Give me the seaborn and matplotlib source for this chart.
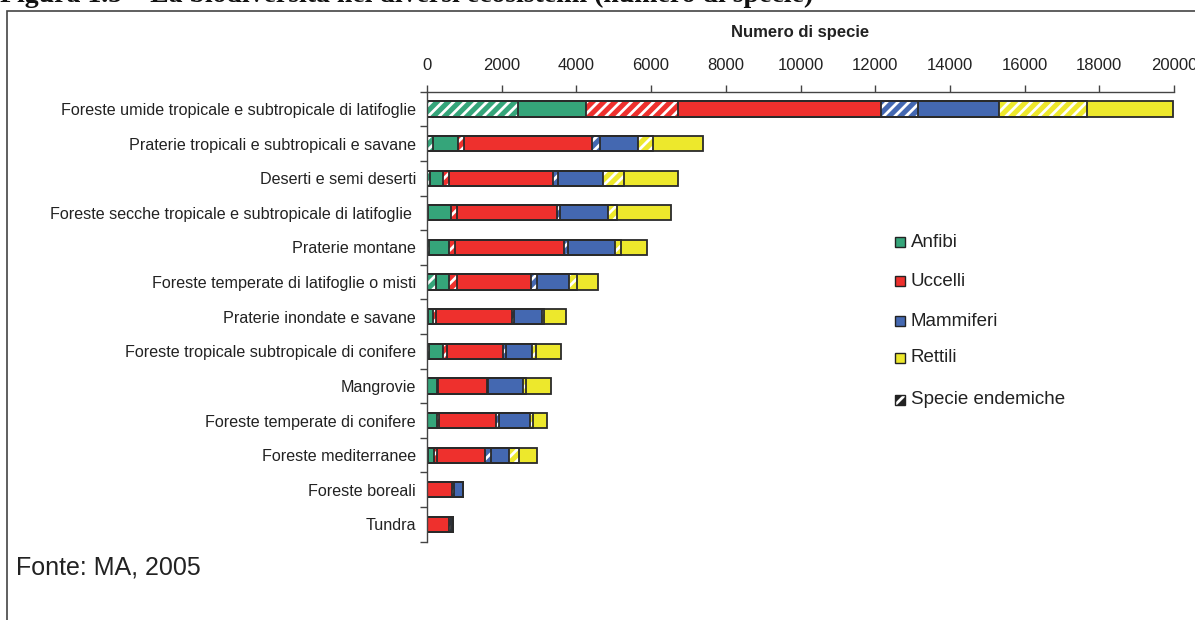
import matplotlib
matplotlib.use("Agg")
import matplotlib.pyplot as plt
from matplotlib.patches import Rectangle
import numpy as np
import pandas as pd
import seaborn as sns

# ---------------- data ----------------
ecosistemi = [
    "Foreste umide tropicale e subtropicale di latifoglie",
    "Praterie tropicali e subtropicali e savane",
    "Deserti e semi deserti",
    "Foreste secche tropicale e subtropicale di latifoglie ",
    "Praterie montane",
    "Foreste temperate di latifoglie o misti",
    "Praterie inondate e savane",
    "Foreste tropicale subtropicale di conifere",
    "Mangrovie",
    "Foreste temperate di conifere",
    "Foreste mediterranee",
    "Foreste boreali",
    "Tundra",
]
anfibi_endemici    = [2430, 150,   80,   30,   60,  230,   20,   60,   10,   10,   40,   0,   0]
anfibi_altri       = [1840, 690,  355,  600,  540,  365,  135,  375,  250,  250,  145,   0,   0]
uccelli_endemici   = [2450, 150,  160,  160,  150,  200,   85,  105,   45,   55,   75,  10,  10]
uccelli_altri      = [5425, 3435, 2770, 2695, 2925, 1990, 2045, 1500, 1295, 1535, 1295, 670, 580]
mammiferi_endemici = [990,  215,  150,   70,  105,  170,   45,   70,   45,   70,  160,  40,  50]
mammiferi_altri    = [2180, 1000, 1205, 1295, 1250,  850,  740,  690,  920,  840,  480, 235,  65]
rettili_endemici   = [2355, 400,  555,  225,  160,  205,   70,  105,   90,   90,  275,   0,   0]
rettili_altri      = [2295, 1355, 1455, 1445,  690,  565,  580,  695,  670,  360,  480,   0,   0]

gruppi = ["Anfibi", "Uccelli", "Mammiferi", "Rettili"]
legenda_endemiche = "Specie endemiche"
asse_label = "Numero di specie"
x_ticks = [0, 2000, 4000, 6000, 8000, 10000, 12000, 14000, 16000, 18000, 20000]
titolo = "Figura 1.5 \u2013 La biodiversità nei diversi ecosistemi (numero di specie)"
fonte = "Fonte: MA, 2005"

# ---------------- style ----------------
colori = {"Anfibi": "#35A57A", "Uccelli": "#EE302D", "Mammiferi": "#4468B1", "Rettili": "#EDE82C"}
sns.set_theme(style="white")
plt.rcParams["font.family"] = ["Liberation Sans", "DejaVu Sans"]
plt.rcParams["hatch.linewidth"] = 2.0

layers = [
    ("Anfibi", True, anfibi_endemici), ("Anfibi", False, anfibi_altri),
    ("Uccelli", True, uccelli_endemici), ("Uccelli", False, uccelli_altri),
    ("Mammiferi", True, mammiferi_endemici), ("Mammiferi", False, mammiferi_altri),
    ("Rettili", True, rettili_endemici), ("Rettili", False, rettili_altri),
]
cum = np.cumsum(np.array([l[2] for l in layers], dtype=float), axis=0)

W, H = 1195, 620
fig = plt.figure(figsize=(W / 100, H / 100), dpi=100)
ax = fig.add_axes([427 / W, 1 - 541.7 / H, (1174 - 427) / W, (541.7 - 91.7) / H])

BAR_W = 0.44
# filled layers, largest cumulative first
for i in range(len(layers) - 1, -1, -1):
    grp, endem, _ = layers[i]
    df = pd.DataFrame({"eco": ecosistemi, "val": cum[i]})
    if endem:
        sns.barplot(data=df, x="val", y="eco", orient="h", color=colori[grp], saturation=1,
                    width=BAR_W, errorbar=None, hatch="///", edgecolor="white", linewidth=0, ax=ax)
    else:
        sns.barplot(data=df, x="val", y="eco", orient="h", color=colori[grp], saturation=1,
                    width=BAR_W, errorbar=None, linewidth=0, ax=ax)
# outlines
for i in range(len(layers)):
    df = pd.DataFrame({"eco": ecosistemi, "val": cum[i]})
    sns.barplot(data=df, x="val", y="eco", orient="h", color="#2a2a2a", fill=False,
                width=BAR_W, errorbar=None, linewidth=1.3, ax=ax)

# axes
ax.set_xlim(0, 20000)
ax.set_ylim(len(ecosistemi) - 0.5, -0.5)
ax.xaxis.tick_top()
ax.xaxis.set_label_position("top")
ax.set_xticks(x_ticks)
ax.set_xticklabels([str(t) for t in x_ticks], fontsize=12, color="#222222")
ax.set_xlabel(asse_label, fontsize=12, fontweight="bold", color="#222222", labelpad=15)
ax.set_ylabel("")
ax.tick_params(axis="x", direction="out", length=5, width=1, color="#444444", pad=8.5, top=True, bottom=False)
ax.tick_params(axis="y", which="major", length=0, pad=8, labelsize=11.6, labelcolor="#222222")
ax.set_yticks(np.arange(len(ecosistemi) + 1) - 0.5, minor=True)
ax.tick_params(axis="y", which="minor", direction="out", length=5, width=1, color="#444444", left=True)
for s in ["right", "bottom"]:
    ax.spines[s].set_visible(False)
for s in ["left", "top"]:
    ax.spines[s].set_color("#444444")
    ax.spines[s].set_linewidth(1.0)
ax.grid(False)

# legend (manual)
leg_y = [242, 281, 321, 358]
for grp, y in zip(gruppi, leg_y):
    fig.add_artist(Rectangle((895 / W, 1 - (y + 5) / H), 10 / W, 10 / H, transform=fig.transFigure,
                             facecolor=colori[grp], edgecolor="#222222", linewidth=1.0))
    fig.text(911 / W, 1 - y / H, grp, fontsize=13.5, va="center", ha="left", color="#222222")
fig.add_artist(Rectangle((895 / W, 1 - 405 / H), 10 / W, 10 / H, transform=fig.transFigure,
                         facecolor="#222222", edgecolor="white", hatch="//", linewidth=0))
fig.add_artist(Rectangle((895 / W, 1 - 405 / H), 10 / W, 10 / H, transform=fig.transFigure,
                         facecolor="none", edgecolor="#222222", linewidth=1.0))
fig.text(911 / W, 1 - 400 / H, legenda_endemiche, fontsize=13.5, va="center", ha="left", color="#222222")

# frame, title, source
fig.add_artist(Rectangle((7 / W, -0.1), 1.2, 1 - 11 / H + 0.1, transform=fig.transFigure,
                         facecolor="none", edgecolor="#444444", linewidth=1.2))
fig.text(0.0, 1 - 1.5 / H, titolo, fontsize=20, fontweight="bold", family="Liberation Serif",
         va="baseline", ha="left", color="#111111")
fig.text(16 / W, 1 - 568 / H, fonte, fontsize=18, va="center", ha="left", color="#222222")

fig.savefig("out.png", dpi=100)
